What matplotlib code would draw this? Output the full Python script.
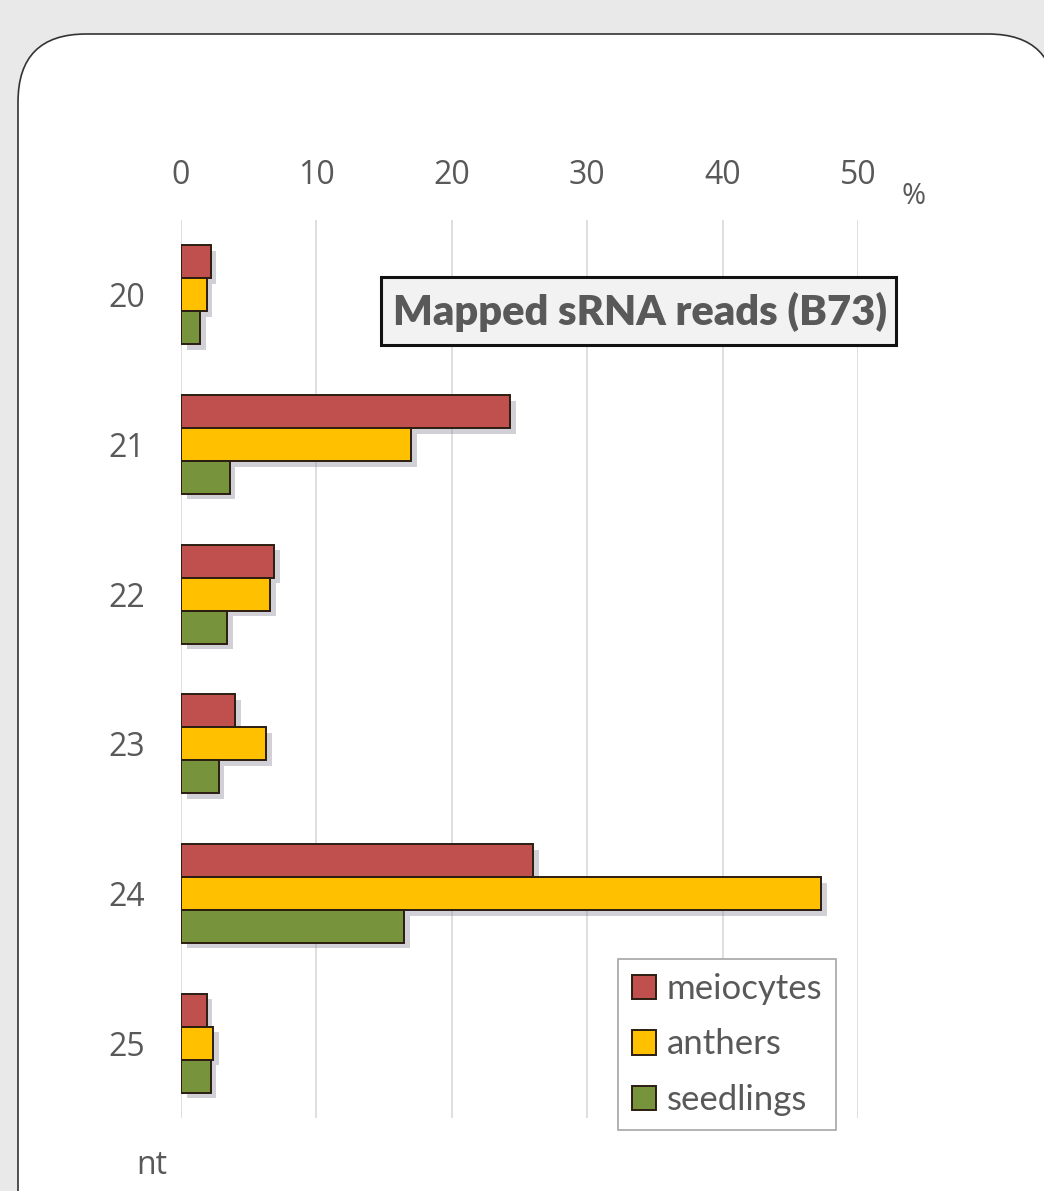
import numpy as np
import matplotlib.pyplot as plt
from matplotlib.patches import FancyBboxPatch, Rectangle, Patch
import matplotlib.patheffects as pe

# data (% of mapped sRNA reads)
lengths = ['20', '21', '22', '23', '24', '25']
meiocytes = [2.2, 24.3, 6.9, 4.0, 26.0, 1.9]
anthers = [1.9, 17.0, 6.6, 6.3, 47.3, 2.4]
seedlings = [1.4, 3.6, 3.4, 2.8, 16.5, 2.2]
series = ['meiocytes', 'anthers', 'seedlings']
colors = ['#C0504D', '#FFC000', '#77933C']
xticks = [0, 10, 20, 30, 40, 50]

grey = '#595959'
W, H = 1044, 1191
fig = plt.figure(figsize=(W / 100, H / 100), dpi=100)
fig.patch.set_facecolor('#e9e9e9')

# white rounded panel
panel = FancyBboxPatch((18, -80), 1038, H - 34 + 80,
                       boxstyle='round,pad=0,rounding_size=68',
                       transform=None, facecolor='white', edgecolor='#333333',
                       linewidth=1.2, zorder=-5)
fig.patches.append(panel)

ax = fig.add_axes([181 / W, 1 - 1118 / H, (858 - 181) / W, (1118 - 220) / H])
ax.set_facecolor('none')
ax.set_zorder(1)

y = np.arange(len(lengths))
h = 0.22
shadow = [pe.SimplePatchShadow(offset=(4, -4), shadow_rgbFace='#8a8a9a', alpha=0.4),
          pe.Normal()]
for i, (vals, c, name) in enumerate(zip([meiocytes, anthers, seedlings], colors, series)):
    bars = ax.barh(y + (i - 1) * h, vals, height=h, color=c, edgecolor='#2b1d12',
                   linewidth=1.4, label=name, zorder=3)
    for b in bars:
        b.set_path_effects(shadow)

ax.set_xlim(0, 50)
ax.set_ylim(len(lengths) - 0.5, -0.5)
ax.set_xticks(xticks)
ax.set_yticks(y)
ax.set_yticklabels(lengths)
ax.xaxis.tick_top()
ax.tick_params(axis='x', length=0, pad=20, labelsize=23, labelcolor=grey)
ax.tick_params(axis='y', length=0, pad=26, labelsize=23, labelcolor=grey)
for lab in ax.get_xticklabels() + ax.get_yticklabels():
    lab.set_fontfamily('Open Sans')
ax.grid(axis='x', color='#d9d9d9', linewidth=1.2, zorder=0)
for s in ax.spines.values():
    s.set_visible(False)

fig.text(914 / W, 1 - 197 / H, '%', fontsize=21, color=grey, family='Open Sans',
         ha='center', va='center')
fig.text(152 / W, 1 - 1166 / H, 'nt', fontsize=23, color=grey, family='Open Sans',
         ha='center', va='center')

# title box
title_ax = fig.add_axes([0, 0, 1, 1], zorder=5)
title_ax.axis('off')
title_ax.add_patch(Rectangle((381 / W, 1 - 345 / H), 515 / W, 68 / H,
                             transform=fig.transFigure, facecolor='#f2f2f2',
                             edgecolor='#111111', linewidth=2.2))
title_ax.text(640 / W, 1 - 312 / H, 'Mapped sRNA reads (B73)', fontsize=30,
              fontweight='heavy', color=grey, family='Lato', ha='center', va='center',
              transform=fig.transFigure)

handles = [Patch(facecolor=c, edgecolor='#2b1d12', linewidth=1.4) for c in colors]
leg = title_ax.legend(handles, series, loc='lower right',
                      bbox_to_anchor=(836 / W, 1 - 1130 / H), bbox_transform=fig.transFigure,
                      prop={'family': 'Lato', 'size': 25}, labelcolor=grey,
                      handlelength=0.7, handleheight=0.7, handletextpad=0.3,
                      labelspacing=0.68, borderpad=0.4, borderaxespad=0,
                      fancybox=False, framealpha=1, edgecolor='#a6a6a6')
leg.get_frame().set_linewidth(1.2)

fig.savefig('out.png', dpi=100, facecolor=fig.get_facecolor())
